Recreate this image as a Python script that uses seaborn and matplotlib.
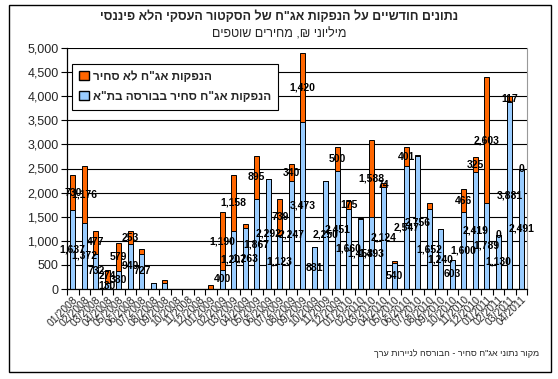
import matplotlib
matplotlib.use("Agg")
import matplotlib.pyplot as plt
import matplotlib.patches as mpatches
import numpy as np
import pandas as pd
import seaborn as sns

# months 01/2008 .. 04/2011
months = [f"{m:02d}/{y}" for y in (2008, 2009, 2010) for m in range(1, 13)] + \
         [f"{m:02d}/2011" for m in range(1, 5)]

listed = [1637, 1372, 732, 130, 380, 940, 727, 125, 115, 0, 0, 0,
          0, 400, 1207, 1263, 1867, 2292, 1123, 2247, 3473, 881, 2250, 2451,
          1660, 1453, 1493, 2124, 540, 2547, 2756, 1652, 1240, 603, 1600, 2419,
          1789, 1130, 3881, 2491]
unlisted = [730, 1176, 477, 274, 579, 253, 100, 0, 75, 0, 0, 0,
            90, 1190, 1158, 80, 895, 0, 739, 340, 1420, 0, 0, 500,
            175, 20, 1588, 74, 40, 401, 15, 140, 10, 0, 466, 325,
            2603, 0, 117, 0]
# which segments carry a data label in the original
listed_lab = [1, 1, 1, 1, 1, 1, 1, 0, 0, 0, 0, 0,
              0, 1, 1, 1, 1, 1, 1, 1, 1, 1, 1, 1,
              1, 1, 1, 1, 1, 1, 1, 1, 1, 1, 1, 1,
              1, 1, 1, 1]
unlisted_lab = [1, 1, 1, 1, 1, 1, 0, 0, 0, 0, 0, 0,
                0, 1, 1, 0, 1, 0, 1, 1, 1, 0, 0, 1,
                1, 0, 1, 1, 0, 1, 0, 0, 0, 0, 1, 1,
                1, 1, 1, 1]

title = 'נתונים חודשיים על הנפקות אג"ח של הסקטור העסקי הלא פיננסי'
subtitle = 'מיליוני ₪, מחירים שוטפים'
lab_unlisted = 'הנפקות אג"ח לא סחיר'
lab_listed = 'הנפקות אג"ח סחיר בבורסה בת"א'
source = 'מקור נתוני אג"ח סחיר - הבורסה לניירות ערך'


def rtl(s):
    # matplotlib has no bidi support: reverse for visual order
    return s[::-1]


BLUE = "#99CCFF"
ORANGE = "#FF6600"

sns.set_style("white")
plt.rcParams["font.family"] = ["Liberation Sans", "DejaVu Sans"]

df = pd.DataFrame({"month": months, "listed": listed, "unlisted": unlisted})
df["total"] = df["listed"] + df["unlisted"]

fig = plt.figure(figsize=(5.58, 3.79), dpi=100)
ax = fig.add_axes([67 / 558, 1 - 289 / 379, 460 / 558, 241 / 379])

sns.barplot(data=df, x="month", y="total", order=months, color=ORANGE,
            saturation=1, width=0.4, edgecolor="black", linewidth=0.7, ax=ax)
sns.barplot(data=df, x="month", y="listed", order=months, color=BLUE,
            saturation=1, width=0.4, edgecolor="black", linewidth=0.7, ax=ax)

for i, r in df.iterrows():
    if listed_lab[i]:
        ax.text(i, r["listed"] / 2, f"{r['listed']:,}", ha="center", va="center",
                fontsize=7.5, fontweight="bold", color="black", zorder=5)
    if unlisted_lab[i]:
        ax.text(i, r["listed"] + r["unlisted"] / 2, f"{r['unlisted']:,}",
                ha="center", va="center", fontsize=7.5, fontweight="bold",
                color="black", zorder=5)

ax.set_ylim(0, 5000)
ax.set_xlim(-0.5, len(months) - 0.5)
ax.set_yticks(np.arange(0, 5001, 500))
ax.yaxis.set_major_formatter(plt.FuncFormatter(lambda v, _: f"{v:,.0f}"))
ax.grid(axis="y", color="black", linewidth=0.8)
ax.set_axisbelow(True)
ax.set_xlabel("")
ax.set_ylabel("")

ax.set_xticks(range(len(months)))
ax.set_xticklabels(months, rotation=45, ha="right", rotation_mode="anchor",
                   fontsize=7.5)
ax.set_xticks(np.arange(-0.5, len(months)), minor=True)
ax.tick_params(axis="x", which="major", length=0, pad=4)
ax.tick_params(axis="x", which="minor", length=4, width=0.8, color="black",
               direction="out", bottom=True)
ax.tick_params(axis="y", length=4, width=0.8, color="black", direction="out",
               left=True, labelsize=9, pad=2)

for s in ("left", "bottom"):
    ax.spines[s].set_color("black")
    ax.spines[s].set_linewidth(0.9)
ax.spines["top"].set_visible(False)
ax.spines["right"].set_color("#999999")

handles = [mpatches.Patch(facecolor=ORANGE, edgecolor="black", label=rtl(lab_unlisted)),
           mpatches.Patch(facecolor=BLUE, edgecolor="black", label=rtl(lab_listed))]
leg = ax.legend(handles=handles, loc="upper left", bbox_to_anchor=(-0.002, 0.96),
                frameon=True, fancybox=False, edgecolor="black", framealpha=1,
                handlelength=0.8, handleheight=0.8, handletextpad=0.4,
                borderpad=0.6, labelspacing=0.7,
                prop={"size": 8.5, "weight": "bold"})
leg.get_frame().set_linewidth(0.8)

fig.text(0.5, 1 - 17 / 379, rtl(title), ha="center", va="center",
         fontsize=9, fontweight="bold")
fig.text(0.5, 1 - 34 / 379, rtl(subtitle), ha="center", va="center", fontsize=9)
fig.text(539 / 558, 1 - 353 / 379, rtl(source), ha="right", va="center",
         fontsize=6.5)

fig.patches.append(mpatches.Rectangle((9 / 558, 1 - 372 / 379), 542 / 558, 367 / 379,
                                      transform=fig.transFigure, fill=False,
                                      edgecolor="black", linewidth=1))

fig.savefig("out.png", dpi=100)
